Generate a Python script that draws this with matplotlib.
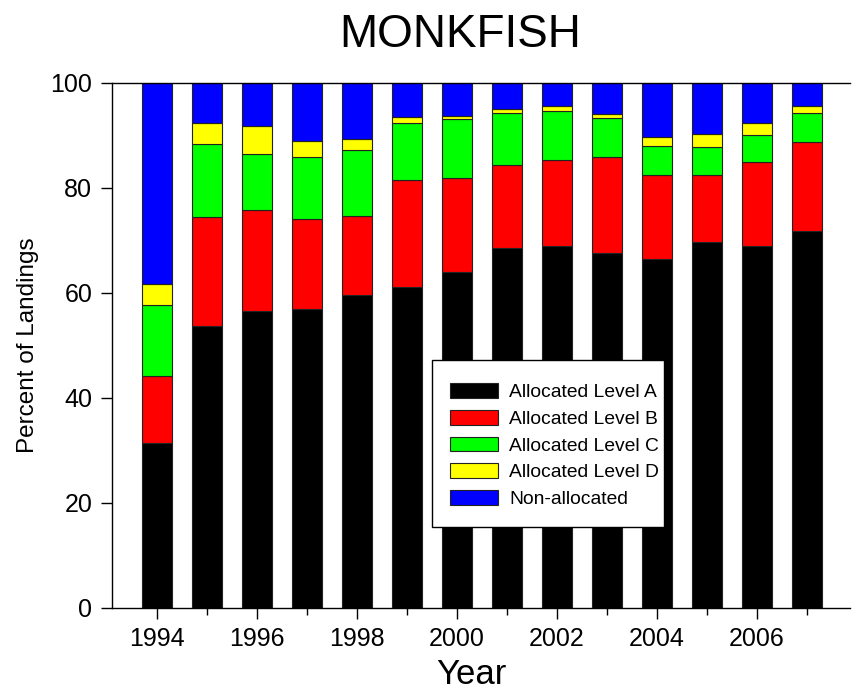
import matplotlib
matplotlib.use("Agg")
import matplotlib.pyplot as plt
from matplotlib.ticker import MultipleLocator
from matplotlib.patches import Rectangle
import numpy as np

plt.rcParams['font.family'] = ['Liberation Sans', 'DejaVu Sans']

years = [1994, 1995, 1996, 1997, 1998, 1999, 2000, 2001, 2002, 2003, 2004, 2005, 2006, 2007]
# cumulative tops
top_a = [31.4, 53.7, 56.5, 56.9, 59.6, 61.1, 63.9, 68.5, 68.9, 67.6, 66.4, 69.7, 68.9, 71.7]
top_b = [44.1, 74.4, 75.7, 74.0, 74.6, 81.5, 81.8, 84.3, 85.3, 85.8, 82.5, 82.5, 84.9, 88.7]
top_c = [57.6, 88.3, 86.5, 85.8, 87.1, 92.4, 93.1, 94.3, 94.7, 93.2, 87.9, 87.7, 90.0, 94.2]
top_d = [61.7, 92.4, 91.7, 88.8, 89.3, 93.5, 93.7, 94.9, 95.5, 94.1, 89.6, 90.2, 92.3, 95.6]
total = [100] * len(years)

level_a = np.array(top_a)
level_b = np.array(top_b) - np.array(top_a)
level_c = np.array(top_c) - np.array(top_b)
level_d = np.array(top_d) - np.array(top_c)
non_alloc = np.array(total) - np.array(top_d)

series = [
    ("Allocated Level A", level_a, "#000000"),
    ("Allocated Level B", level_b, "#ff0000"),
    ("Allocated Level C", level_c, "#00ff00"),
    ("Allocated Level D", level_d, "#ffff00"),
    ("Non-allocated", non_alloc, "#0000ff"),
]

W, H = 852, 693
fig = plt.figure(figsize=(W / 100, H / 100), dpi=100)
ax = fig.add_axes([0.1311, 0.1231, 0.9977 - 0.1311, 0.8807 - 0.1231])

bottom = np.zeros(len(years))
for name, vals, col in series:
    ax.bar(years, vals, width=0.6, bottom=bottom, color=col, edgecolor="#222222",
           linewidth=0.8, label=name)
    bottom = bottom + vals

ax.set_xlim(1993.09, 2007.86)
ax.set_ylim(0, 100)
ax.xaxis.set_major_locator(MultipleLocator(2))
ax.xaxis.set_minor_locator(MultipleLocator(1))
ax.yaxis.set_major_locator(MultipleLocator(20))
ax.tick_params(axis='x', which='major', direction='out', length=8, width=1, labelsize=18, pad=6)
ax.tick_params(axis='x', which='minor', direction='out', length=5, width=1)
ax.tick_params(axis='y', which='major', direction='out', length=8, width=1, labelsize=18, pad=6)
ax.set_xticks([1994, 1996, 1998, 2000, 2002, 2004, 2006])
ax.spines['right'].set_visible(False)
for s in ['left', 'bottom', 'top']:
    ax.spines[s].set_linewidth(1.0)

ax.set_xlabel("Year", fontsize=25)
ax.xaxis.set_label_coords((471 - 111.7) / (850 - 111.7), -(675 - 607.7) / 525.0, transform=ax.transAxes)
ax.xaxis.label.set_va('center')
ax.set_ylabel("Percent of Landings", fontsize=17.5, labelpad=8)
fig.text(460 / W, 1 - 35 / H, "MONKFISH", fontsize=33, ha='center', va='center')

# legend box drawn as its own frame
fig.patches.append(Rectangle((432 / W, 1 - 527 / H), (664 - 432) / W, (527 - 360) / H,
                             transform=fig.transFigure, facecolor='white',
                             edgecolor='black', linewidth=1.0, zorder=5))
leg = ax.legend(loc='upper left', bbox_to_anchor=(450 / W, 1 - 383 / H),
                bbox_transform=fig.transFigure, fontsize=13.9, frameon=False,
                handlelength=2.5, handleheight=0.8, handletextpad=0.55,
                labelspacing=0.45, borderpad=0, borderaxespad=0)
for h in leg.legend_handles:
    h.set_edgecolor('#222222')
leg.remove()
fig.add_artist(leg)
leg.set_zorder(6)

fig.savefig("out.png", dpi=100)
